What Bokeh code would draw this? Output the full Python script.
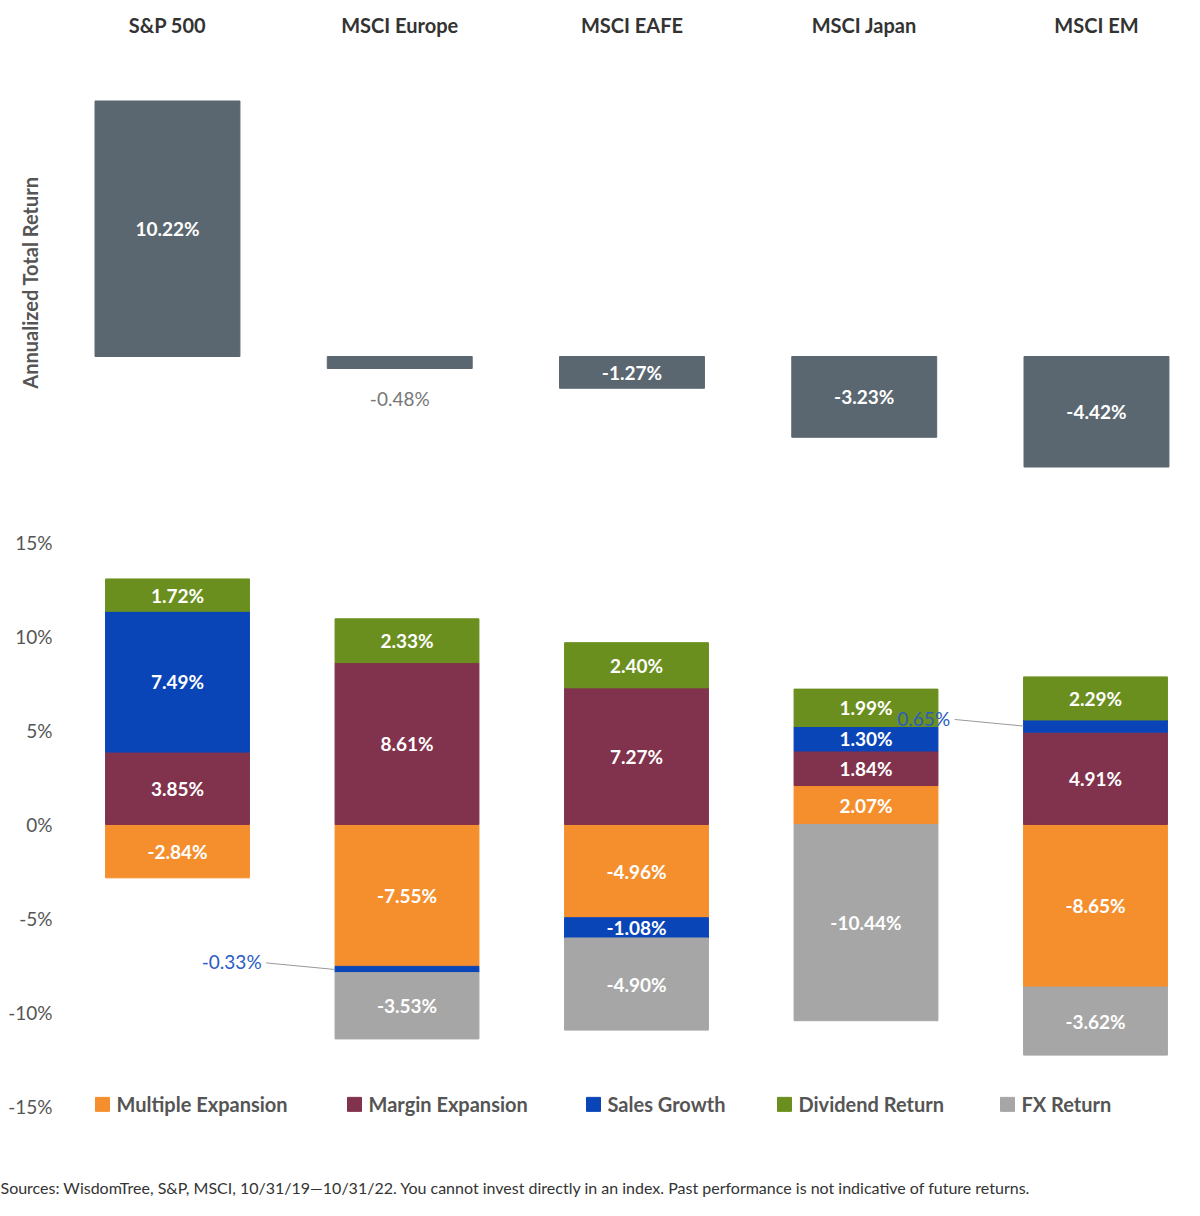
from bokeh.plotting import figure
from bokeh.layouts import column
from bokeh.embed import file_html
from bokeh.resources import INLINE
from bokeh.core.properties import value

indices = ["S&P 500", "MSCI Europe", "MSCI EAFE", "MSCI Japan", "MSCI EM"]
total_return = [10.22, -0.48, -1.27, -3.23, -4.42]
series = ["Multiple Expansion", "Margin Expansion", "Sales Growth", "Dividend Return", "FX Return"]
multiple = [-2.84, -7.55, -4.96, 2.07, -8.65]
margin = [3.85, 8.61, 7.27, 1.84, 4.91]
sales = [7.49, -0.33, -1.08, 1.30, 0.65]
dividend = [1.72, 2.33, 2.40, 1.99, 2.29]
fx = [0.0, -3.53, -4.90, -10.44, -3.62]
yticks = [15, 10, 5, 0, -5, -10, -15]
colors = ["#F58F2E", "#81324C", "#0A45B8", "#6A8F1E", "#A6A6A6"]
FONT = "Lato"
W = 1184

def base(h, xr, yr):
    p = figure(width=W, height=h, x_range=xr, y_range=yr, output_backend="svg",
               toolbar_location=None, min_border=0)
    p.axis.visible = False
    p.grid.visible = False
    p.outline_line_color = None
    return p

# ---- top figure
top = base(520, (-0.719, 4.379), (-6.56, 14.24))
xs = list(range(5))
top.vbar(x=xs, width=0.624, bottom=[min(0, v) for v in total_return],
         top=[max(0, v) for v in total_return], color="#5B6770")
top.text(x=xs, y=[13.28]*5, text=indices, text_align="center", text_baseline="middle",
         text_font=value(FONT), text_font_style="bold", text_font_size="20px", text_color="#333333")
for i, v in enumerate(total_return):
    lab = f"{v:.2f}%"
    if abs(v) < 0.8:
        top.text(x=[i], y=[v - 1.2], text=[lab], text_align="center", text_baseline="middle",
                 text_font=value(FONT), text_font_size="19px", text_color="#777777")
    else:
        top.text(x=[i], y=[v / 2], text=[lab], text_align="center", text_baseline="middle",
                 text_font=value(FONT), text_font_style="bold", text_font_size="19px", text_color="white")
top.text(x=[(38 - 175) / 232.25], y=[(364 - 290) / 25], text=["Annualized Total Return"], angle=1.5708,
         text_align="center", text_baseline="middle", text_font=value(FONT), text_font_style="bold",
         text_font_size="20px", text_color="#555555")

# ---- bottom figure
X0, SX = 185, 229.5
bot = base(688, ((8 - X0) / SX, (1192 - X0) / SX), (-20.43, 16.17))
data = [multiple, margin, sales, dividend, fx]
bw = 0.627
for i in range(5):
    pos, neg = 0.0, 0.0
    for s, vals in enumerate(data):
        v = vals[i]
        if v == 0:
            continue
        if v > 0:
            b, t = pos, pos + v
            pos = t
        else:
            b, t = neg + v, neg
            neg = b
        bot.vbar(x=[i], width=bw, bottom=[b], top=[t], color=colors[s])
        lab = f"{v:.2f}%"
        if abs(v) >= 1.0:
            bot.text(x=[i], y=[(b + t) / 2], text=[lab], text_align="center", text_baseline="middle",
                     text_font=value(FONT), text_font_style="bold", text_font_size="19px", text_color="white")
        else:
            # callout to the left
            lx = i - bw / 2
            ty = (b + t) / 2
            tx = lx - 0.32
            bot.line(x=[tx + 0.02, lx], y=[ty + 0.35 * (1 if v > 0 else 1), ty], line_color="#999999", line_width=1)
            bot.text(x=[tx], y=[ty + 0.4], text=[lab], text_align="right", text_baseline="middle",
                     text_font=value(FONT), text_font_size="19px", text_color="#2A5CC4")
bot.text(x=[(60 - X0) / SX] * len(yticks), y=yticks, text=[f"{t}%" for t in yticks],
         text_align="right", text_baseline="middle", text_font=value(FONT),
         text_font_size="19px", text_color="#555555")
leg_x = [110, 362, 601, 792, 1015]
ly = -14.89
for s in range(5):
    x = (leg_x[s] - X0) / SX
    bot.rect(x=[x], y=[ly], width=14 / SX, height=14 / 18.8, color=colors[s])
    bot.text(x=[x + 14 / SX], y=[ly], text=[series[s]], text_align="left", text_baseline="middle",
             text_font=value(FONT), text_font_style="bold", text_font_size="20px", text_color="#555555")
bot.text(x=[(8 - X0) / SX], y=[-19.3], text=["Sources: WisdomTree, S&P, MSCI, 10/31/19\u201410/31/22. You cannot invest directly in an index. Past performance is not indicative of future returns."],
         text_align="left", text_baseline="middle", text_font=value(FONT),
         text_font_size="16px", text_color="#333333")

layout = column(top, bot, spacing=0)
open("out.html", "w").write(file_html(layout, INLINE))
